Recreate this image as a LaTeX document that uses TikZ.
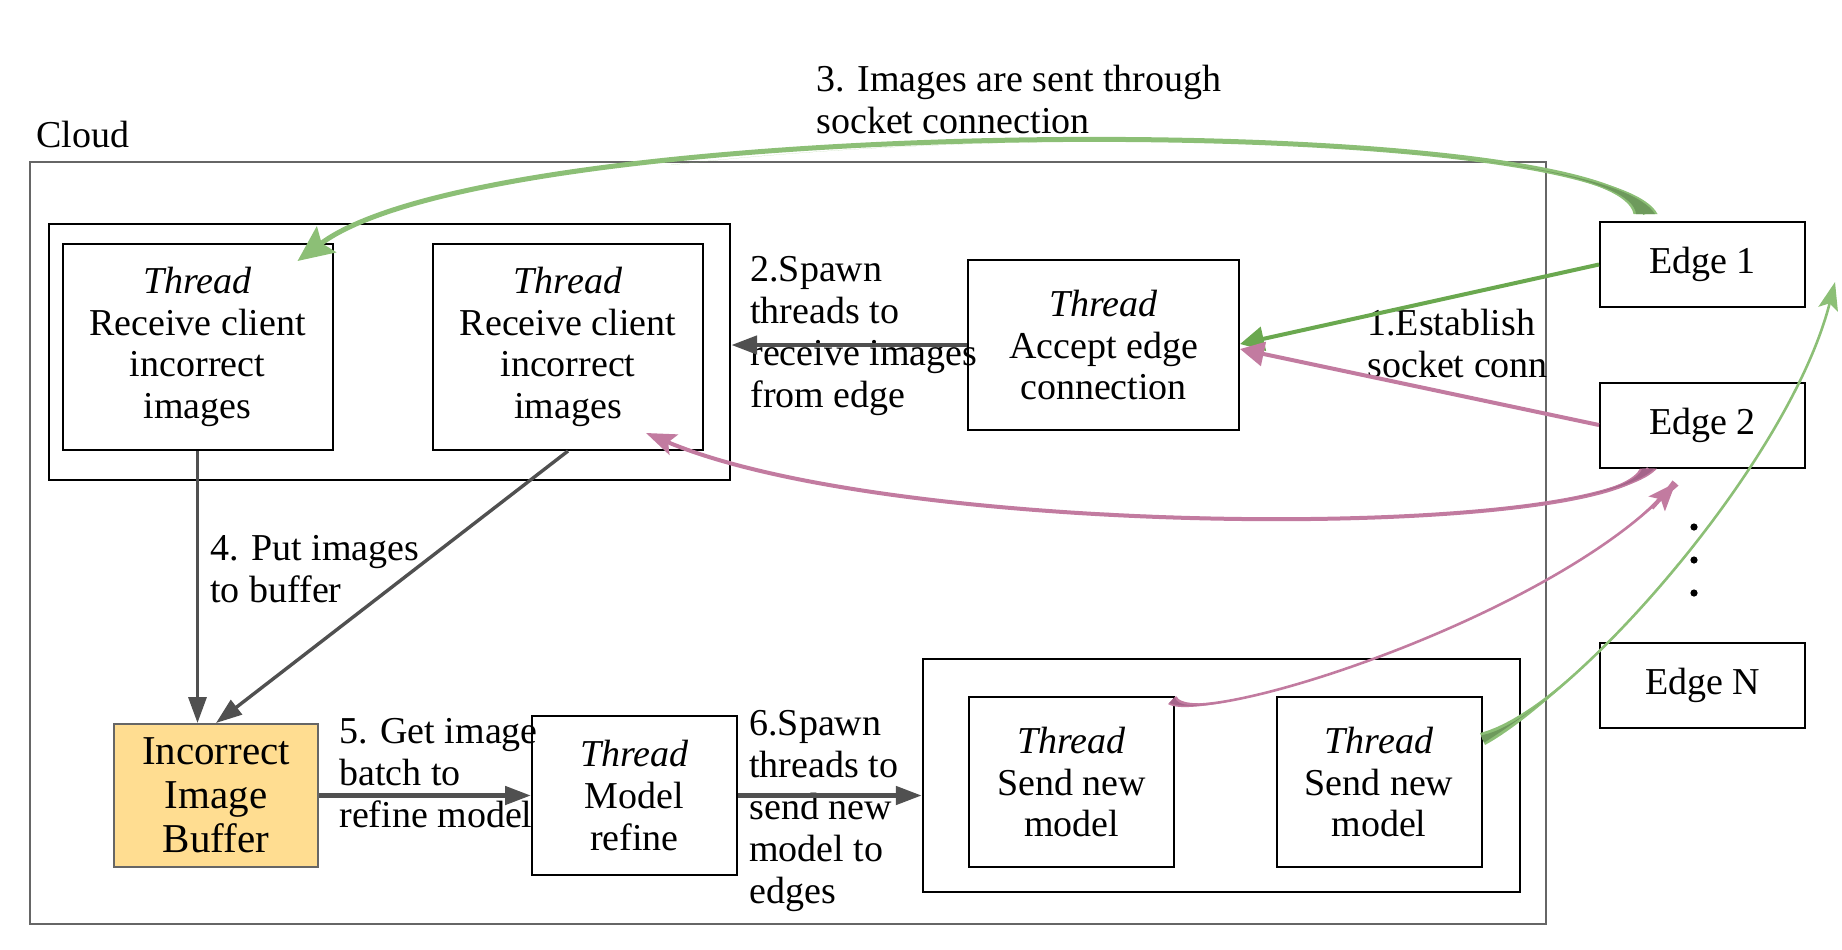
\documentclass[tikz,border=0pt]{standalone}
\usepackage{fontspec}
\setmainfont{Liberation Serif}
\usepackage{xcolor}
\usetikzlibrary{arrows.meta,calc}

\definecolor{arrowgray}{HTML}{505050}
\definecolor{cloudgray}{HTML}{666666}
\definecolor{bufferfill}{HTML}{FFDD91}
\definecolor{edgegreen}{HTML}{6AA84F}
\definecolor{sockgreen}{HTML}{8CBF76}
\definecolor{sockgreendk}{HTML}{6E9A5C}
\definecolor{sockpink}{HTML}{C27BA0}
\definecolor{sockpinkdk}{HTML}{A5648A}

\tikzset{
  threadbox/.style={draw=black, line width=1pt, align=center, inner sep=0pt},
  groupbox/.style={draw=black, line width=1.2pt, inner sep=0pt},
  edgebox/.style={draw=black, line width=1pt, inner sep=0pt, minimum width=102.5pt, minimum height=42.5pt},
  steplabel/.style={anchor=base west, align=left, inner sep=0pt},
  grayarrow/.style={draw=arrowgray, line width=2.4pt, -{Triangle[length=13pt,width=9pt]}},
  linkarrow/.style={line width=2pt, -{Triangle[length=12pt,width=12pt]}}
}

\begin{document}
\begin{tikzpicture}[x=0.5pt, y=-0.5pt, font=\fontsize{19}{20.9}\selectfont]
  \useasboundingbox (0,0) rectangle (1842,949);

  % cloud side
  \draw[cloudgray, line width=1pt] (30,162) rectangle (1546,924);
  \node[steplabel] (cloudlabel) at (36,147) {Cloud};

  \node[groupbox, minimum width=340.5pt, minimum height=128pt] (recvgroup) at (389.5,352) {};
  \foreach \n/\x in {recv1/197.5, recv2/568}
    \node[threadbox, minimum width=135pt, minimum height=103pt] (\n) at (\x,347)
      {\textit{Thread}\\Receive client\\incorrect\\images};
  \node[threadbox, minimum width=135.5pt, minimum height=85pt] (accept) at (1103.5,345)
    {\textit{Thread}\\Accept edge\\connection};
  \node[threadbox, fill=bufferfill, draw=cloudgray, minimum width=102pt, minimum height=71.5pt,
        font=\fontsize{20.5}{22}\selectfont] (buffer) at (216,795.5) {Incorrect\\Image\\Buffer};
  \node[threadbox, minimum width=102.5pt, minimum height=79.5pt] (model) at (634.5,795.5)
    {\textit{Thread}\\Model\\refine};
  \node[groupbox, minimum width=298.5pt, minimum height=116.5pt] (sendgroup) at (1221.5,775.5) {};
  \foreach \n/\x in {send1/1071.5, send2/1379}
    \node[threadbox, minimum width=102.5pt, minimum height=85pt] (\n) at (\x,782)
      {\textit{Thread}\\Send new\\model};

  % edge side
  \foreach \n/\y/\t in {edge1/264.5/Edge 1, edge2/425/Edge 2, edgeN/685/Edge N}
    \node[edgebox] (\n) at (1702.5,\y) {\t};
  \foreach \y in {527,560,593}
    \fill (1694,\y) circle (1.8pt);

  % labels, placed by their last line
  \node[steplabel] (estlabel) at (1367,377) {1.Establish\\socket conn};
  \node[steplabel] (spawnrecv) at (750,407) {2.Spawn\\threads to\\receive images\\from edge};
  \node[steplabel] (sentlabel) at (816,133) {3. Images are sent through\\socket connection};
  \node[steplabel] (putlabel) at (210,602) {4. Put images\\to buffer};
  \node[steplabel] (getlabel) at (339,827) {5. Get image\\batch to\\refine model};
  \node[steplabel] (spawnsend) at (749,903) {6.Spawn\\threads to\\send new\\model to\\edges};

  % gray arrows
  \draw[grayarrow] (accept.west) -- (accept.west -| recvgroup.east);
  \draw[grayarrow, line width=1.7pt] (recv1.south) -- (recv1.south |- buffer.north);
  \draw[grayarrow, line width=1.7pt] (recv2.south) -- (buffer.north);
  \draw[grayarrow] (buffer.east) -- (model.west);
  \draw[grayarrow] (model.east) -- (model.east -| sendgroup.west);

  % socket connections
  \draw[linkarrow, edgegreen] (edge1.west) -- ($(accept.east)+(0,-1)$);
  \draw[linkarrow, sockpink] (edge2.west) -- ($(accept.east)+(0,4)$);

  % tapered curves: light body, dark core near the thick end
  \coordinate (imgs) at ($(edge1.north)+(-57,-7)$);
  \coordinate (imge) at ($(recv1.north east)+(-36,18)$);
  \draw[sockgreen, line width=2.5pt, -{Stealth[length=18pt,width=16pt,inset=3pt]}]
    (imgs) .. controls (1610,110) and (500,110) .. (imge);
  \fill[sockgreen]
    ($(imgs)+(-12,0)$) .. controls (1620.7,141.5) and (1069.4,119.5) .. (671,165)
    .. controls (1069.4,119.5) and (1620.7,141.5) .. ($(imgs)+(12,0)$) -- cycle;
  \fill[sockgreendk]
    ($(imgs)+(-9.5,0)$) .. controls (1633.1,178.3) and (1489,154.4) .. (1298.2,145.4)
    .. controls (1489,154.4) and (1633.1,178.3) .. ($(imgs)+(9.5,0)$) -- cycle;

  \coordinate (e2s) at ($(edge2.south)+(-54,0)$);
  \coordinate (e2e) at ($(recv2.south east)+(-58,-18)$);
  \draw[sockpink, line width=2pt, -{Stealth[length=15pt,width=11pt,inset=3pt]}]
    (e2s) .. controls (1600,540) and (900,540) .. (e2e);
  \fill[sockpink]
    ($(e2s)+(-8.5,0)$) .. controls (1619.4,511) and (1355.8,528.4) .. (1094.4,512)
    .. controls (1355.8,528.4) and (1619.4,511) .. ($(e2s)+(8.5,0)$) -- cycle;
  \fill[sockpinkdk]
    ($(e2s)+(-6,0)$) .. controls (1634,489.3) and (1560.8,504.5) .. (1458.6,512.2)
    .. controls (1560.8,504.5) and (1634,489.3) .. ($(e2s)+(6,0)$) -- cycle;

  \coordinate (s2s) at ($(send2.north east)+(0,43)$);
  \coordinate (s2e) at ($(edge1.east)+(29,17.5)$);
  \draw[sockgreen, line width=1.3pt, -{Stealth[length=14pt,width=10pt,inset=3pt]}]
    (s2s) .. controls (1580,700) and (1790,460) .. (s2e);
  \fill[sockgreen]
    ($(s2s)+(-2.5,-6)$) .. controls (1530.5,720) and (1607.8,650) .. (1678.1,562.8)
    .. controls (1607.8,650) and (1530.5,720) .. ($(s2s)+(2.5,6)$) -- cycle;
  \fill[sockgreendk]
    ($(s2s)+(-1.5,-3.7)$) .. controls (1500.8,732) and (1525,716) .. (1551.5,694.1)
    .. controls (1525,716) and (1500.8,732) .. ($(s2s)+(1.5,3.7)$) -- cycle;

  \coordinate (s1s) at ($(send1.north east)+(-3,4)$);
  \coordinate (s1e) at ($(edge2.south)+(-27,14.5)$);
  \draw[sockpink, line width=1.3pt]
    (s1s) .. controls (1200,730) and (1560,615) .. (s1e);
  \draw[sockpink, line width=1.3pt, -{Stealth[length=14pt,width=11pt,inset=3pt]}]
    (1652.4,508.6) -- (s1e);
  \fill[sockpink]
    ($(s1s)+(-4,4)$) .. controls (1185.5,715.5) and (1282.8,694) .. (1390.8,652.3)
    .. controls (1282.8,694) and (1185.5,715.5) .. ($(s1s)+(4,-4)$) -- cycle;
  \fill[sockpinkdk]
    ($(s1s)+(-2.8,2.8)$) .. controls (1176.8,706.8) and (1195.8,706.8) .. (1223.5,702.1)
    .. controls (1195.8,706.8) and (1176.8,706.8) .. ($(s1s)+(2.8,-2.8)$) -- cycle;
  \fill[sockpink]
    ($(s1e)+(-3,-2.6)$) .. controls (1652.4,508.6) and (1619.5,534.5) .. (1581.4,558.6)
    .. controls (1619.5,534.5) and (1652.4,508.6) .. ($(s1e)+(3,2.6)$) -- cycle;
\end{tikzpicture}
\end{document}
